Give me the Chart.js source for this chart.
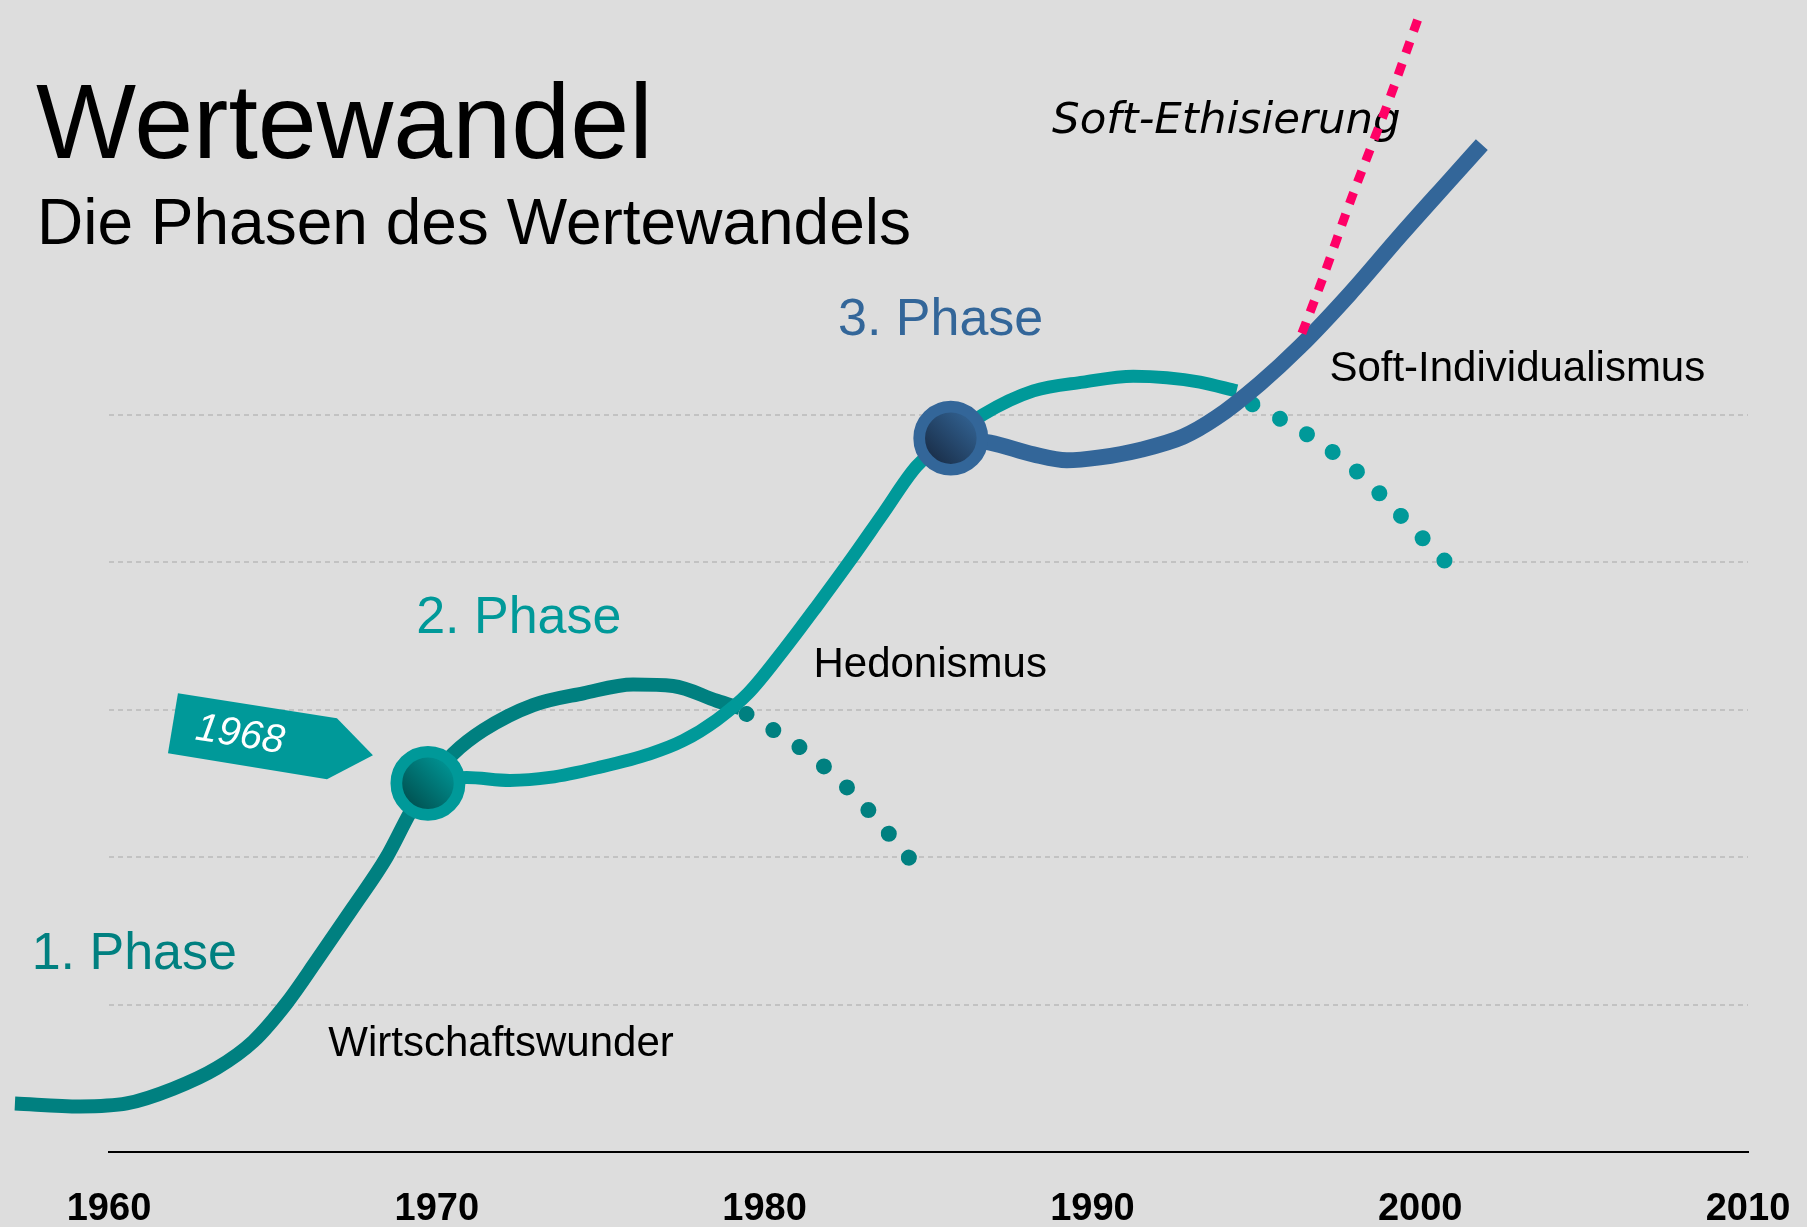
<!DOCTYPE html>
<html lang="de">
<head>
<meta charset="utf-8">
<title>Wertewandel</title>
<script src="https://cdn.jsdelivr.net/npm/chart.js@4"></script>
<style>
  html, body { margin: 0; padding: 0; background: #dddddd; overflow: hidden; }
  canvas { display: block; }
</style>
</head>
<body>
<canvas id="wertechart" width="1807" height="1227"></canvas>
<script>
var tickYears = [1960, 1970, 1980, 1990, 2000, 2010];
var gridLevels = [1, 2, 3, 4, 5];

// 1. Phase (Wirtschaftswunder) bis in die 70er
var phase1Years  = [1957.13, 1959.12, 1960.54, 1961.96, 1963.29, 1964.40, 1965.42, 1966.34, 1967.45, 1968.47, 1969.18, 1969.73, 1970.50, 1971.42, 1972.94, 1974.47, 1975.99, 1977.21, 1978.54, 1979.25];
var phase1Values = [0.33, 0.31, 0.33, 0.43, 0.57, 0.75, 1.01, 1.30, 1.66, 2.00, 2.30, 2.50, 2.70, 2.86, 3.03, 3.11, 3.17, 3.16, 3.06, 3.01];
var phase1FadeYears  = [1979.45, 1981.10, 1982.57, 1983.86, 1984.50];
var phase1FadeValues = [2.97, 2.74, 2.46, 2.14, 1.97];

// 2. Phase (Hedonismus)
var phase2Years  = [1969.73, 1970.91, 1972.23, 1973.45, 1974.98, 1976.50, 1977.52, 1978.54, 1979.50, 1980.57, 1981.59, 1982.61, 1983.62, 1984.64, 1985.68, 1986.67, 1988.20, 1989.72, 1991.25, 1992.27, 1993.28, 1994.40];
var phase2Values = [2.50, 2.54, 2.52, 2.54, 2.61, 2.70, 2.79, 2.93, 3.11, 3.40, 3.70, 4.01, 4.33, 4.65, 4.84, 5.00, 5.16, 5.22, 5.26, 5.25, 5.22, 5.16];
var phase2FadeYears  = [1994.88, 1996.59, 1998.14, 1999.51, 2000.87];
var phase2FadeValues = [5.07, 4.86, 4.60, 4.29, 3.98];

// 3. Phase (Soft-Individualismus)
var phase3Years  = [1985.68, 1986.88, 1988.20, 1989.22, 1990.23, 1991.45, 1992.77, 1993.79, 1995.11, 1996.33, 1997.86, 1999.38, 2000.91, 2001.88];
var phase3Values = [4.84, 4.81, 4.73, 4.69, 4.71, 4.76, 4.85, 4.98, 5.21, 5.46, 5.82, 6.21, 6.59, 6.83];

// Soft-Ethisierung
var ethicsYears  = [1996.39, 1996.94, 1997.96, 1998.98, 2000.01];
var ethicsValues = [5.55, 5.87, 6.50, 7.09, 7.73];

// Wendepunkte
var nodeYears  = [1969.73, 1985.68];
var nodeValues = [2.50, 4.84];

var FONT = "'Liberation Sans', Arial, sans-serif";
var teal = '#008080';
var lightTeal = '#009999';
var blue = '#336699';
var pink = '#ff0066';
var nodeRing = [lightTeal, blue];
var nodeDark = ['#005252', '#1a2f4a'];
var nodeLight = ['#009292', '#31608f'];

var labels = [
    { text: '1. Phase', x: 1957.64, y: 1.24, font: '52px ' + FONT, color: teal },
    { text: '2. Phase', x: 1969.37, y: 3.52, font: '52px ' + FONT, color: lightTeal },
    { text: '3. Phase', x: 1982.24, y: 5.54, font: '52px ' + FONT, color: blue },
    { text: 'Wirtschaftswunder', x: 1966.69, y: 0.65, font: '42px ' + FONT, color: '#000' },
    { text: 'Hedonismus', x: 1981.49, y: 3.22, font: '42px ' + FONT, color: '#000' },
    { text: 'Soft-Individualismus', x: 1997.23, y: 5.23, font: '42px ' + FONT, color: '#000' },
    { text: 'Soft-Ethisierung', x: 1988.77, y: 6.91, font: "italic 43.5px 'DejaVu Sans', sans-serif", color: '#000' }
];

function toPoints(xs, ys) {
    return xs.map(function (x, i) { return { x: x, y: ys[i] }; });
}

function curve(xs, ys, color, width, order) {
    return {
        data: toPoints(xs, ys),
        borderColor: color,
        borderWidth: width,
        pointRadius: 0,
        cubicInterpolationMode: 'monotone',
        clip: false,
        order: order
    };
}

function dotted(xs, ys, color, order) {
    var d = curve(xs, ys, color, 16, order);
    d.borderDash = [0.001, 31.2];
    d.borderCapStyle = 'round';
    return d;
}

var decor = {
    id: 'decor',
    beforeDraw: function (chart) {
        var ctx = chart.ctx;
        ctx.save();
        ctx.fillStyle = '#dddddd';
        ctx.fillRect(0, 0, chart.width, chart.height);
        ctx.restore();
    },
    beforeDatasetsDraw: function (chart) {
        var ctx = chart.ctx;
        var sx = chart.scales.x, sy = chart.scales.y;
        ctx.save();
        ctx.textAlign = 'left';
        ctx.textBaseline = 'alphabetic';
        ctx.fillStyle = '#000';
        ctx.font = '106px ' + FONT;
        ctx.fillText('Wertewandel', 36, 158);
        ctx.font = '64px ' + FONT;
        ctx.fillText('Die Phasen des Wertewandels', 37, 244);

        labels.forEach(function (l) {
            ctx.font = l.font;
            ctx.fillStyle = l.color;
            ctx.fillText(l.text, sx.getPixelForValue(l.x), sy.getPixelForValue(l.y));
        });

        // Fähnchen "1968" am ersten Knoten
        var cx = sx.getPixelForValue(nodeYears[0]);
        var cy = sy.getPixelForValue(nodeValues[0]);
        ctx.fillStyle = lightTeal;
        ctx.beginPath();
        ctx.moveTo(cx - 250, cy - 90);
        ctx.lineTo(cx - 91, cy - 65);
        ctx.lineTo(cx - 55, cy - 28);
        ctx.lineTo(cx - 101, cy - 4);
        ctx.lineTo(cx - 260, cy - 30);
        ctx.closePath();
        ctx.fill();
        ctx.translate(cx - 188, cy - 48);
        ctx.rotate(9 * Math.PI / 180);
        ctx.fillStyle = '#fff';
        ctx.font = 'italic 40px ' + FONT;
        ctx.textAlign = 'center';
        ctx.textBaseline = 'middle';
        ctx.fillText('1968', 0, 0);
        ctx.restore();
    }
};

var ctx = document.getElementById('wertechart').getContext('2d');

var wertechart = new Chart(ctx, {
    type: 'line',
    data: {
        datasets: [
            {
                data: toPoints(nodeYears, nodeValues),
                showLine: false,
                pointRadius: 31.6,
                pointHoverRadius: 31.6,
                pointBorderWidth: 11.7,
                pointBorderColor: nodeRing,
                pointBackgroundColor: function (c) {
                    var ch = c.chart;
                    if (c.type !== 'data' || !ch.scales.x) return nodeDark[0];
                    var x = ch.scales.x.getPixelForValue(c.raw.x);
                    var y = ch.scales.y.getPixelForValue(c.raw.y);
                    if (!isFinite(x) || !isFinite(y)) return nodeDark[c.dataIndex];
                    var g = ch.ctx.createLinearGradient(x - 20, y + 20, x + 20, y - 20);
                    g.addColorStop(0, nodeDark[c.dataIndex]);
                    g.addColorStop(1, nodeLight[c.dataIndex]);
                    return g;
                },
                clip: false,
                order: 0
            },
            Object.assign(curve(ethicsYears, ethicsValues, pink, 9, 1), { borderDash: [12, 11] }),
            curve(phase3Years, phase3Values, blue, 16, 2),
            dotted(phase2FadeYears, phase2FadeValues, lightTeal, 3),
            curve(phase2Years, phase2Values, lightTeal, 13, 4),
            dotted(phase1FadeYears, phase1FadeValues, teal, 5),
            curve(phase1Years, phase1Values, teal, 14, 6)
        ]
    },
    options: {
        responsive: false,
        animation: false,
        events: [],
        layout: { autoPadding: false, padding: { left: 109, right: 59, top: 0, bottom: -39 } },
        plugins: {
            legend: { display: false },
            tooltip: { enabled: false }
        },
        scales: {
            x: {
                type: 'linear',
                bounds: 'data',
                afterDataLimits: function (scale) {
                    // Achse 1960–2010; die Kurve darf links darüber hinaus laufen
                    scale.min = tickYears[0];
                    scale.max = tickYears[tickYears.length - 1];
                },
                afterBuildTicks: function (scale) {
                    scale.ticks = tickYears.map(function (v) { return { value: v }; });
                },
                ticks: {
                    callback: function (v) { return String(v); },
                    color: '#000',
                    padding: 10,
                    maxRotation: 0,
                    font: { family: FONT, size: 38, weight: 'bold', lineHeight: 2.47 }
                },
                grid: { display: false, drawTicks: false },
                border: { display: true, color: '#000', width: 2 }
            },
            y: {
                min: 0,
                max: 7.81,
                afterBuildTicks: function (scale) {
                    scale.ticks = gridLevels.map(function (v) { return { value: v }; });
                },
                ticks: { display: false },
                grid: { color: '#c2c2c2', lineWidth: 2, drawTicks: false },
                border: { display: false, dash: [5, 4] }
            }
        }
    },
    plugins: [decor]
});
</script>
</body>
</html>
